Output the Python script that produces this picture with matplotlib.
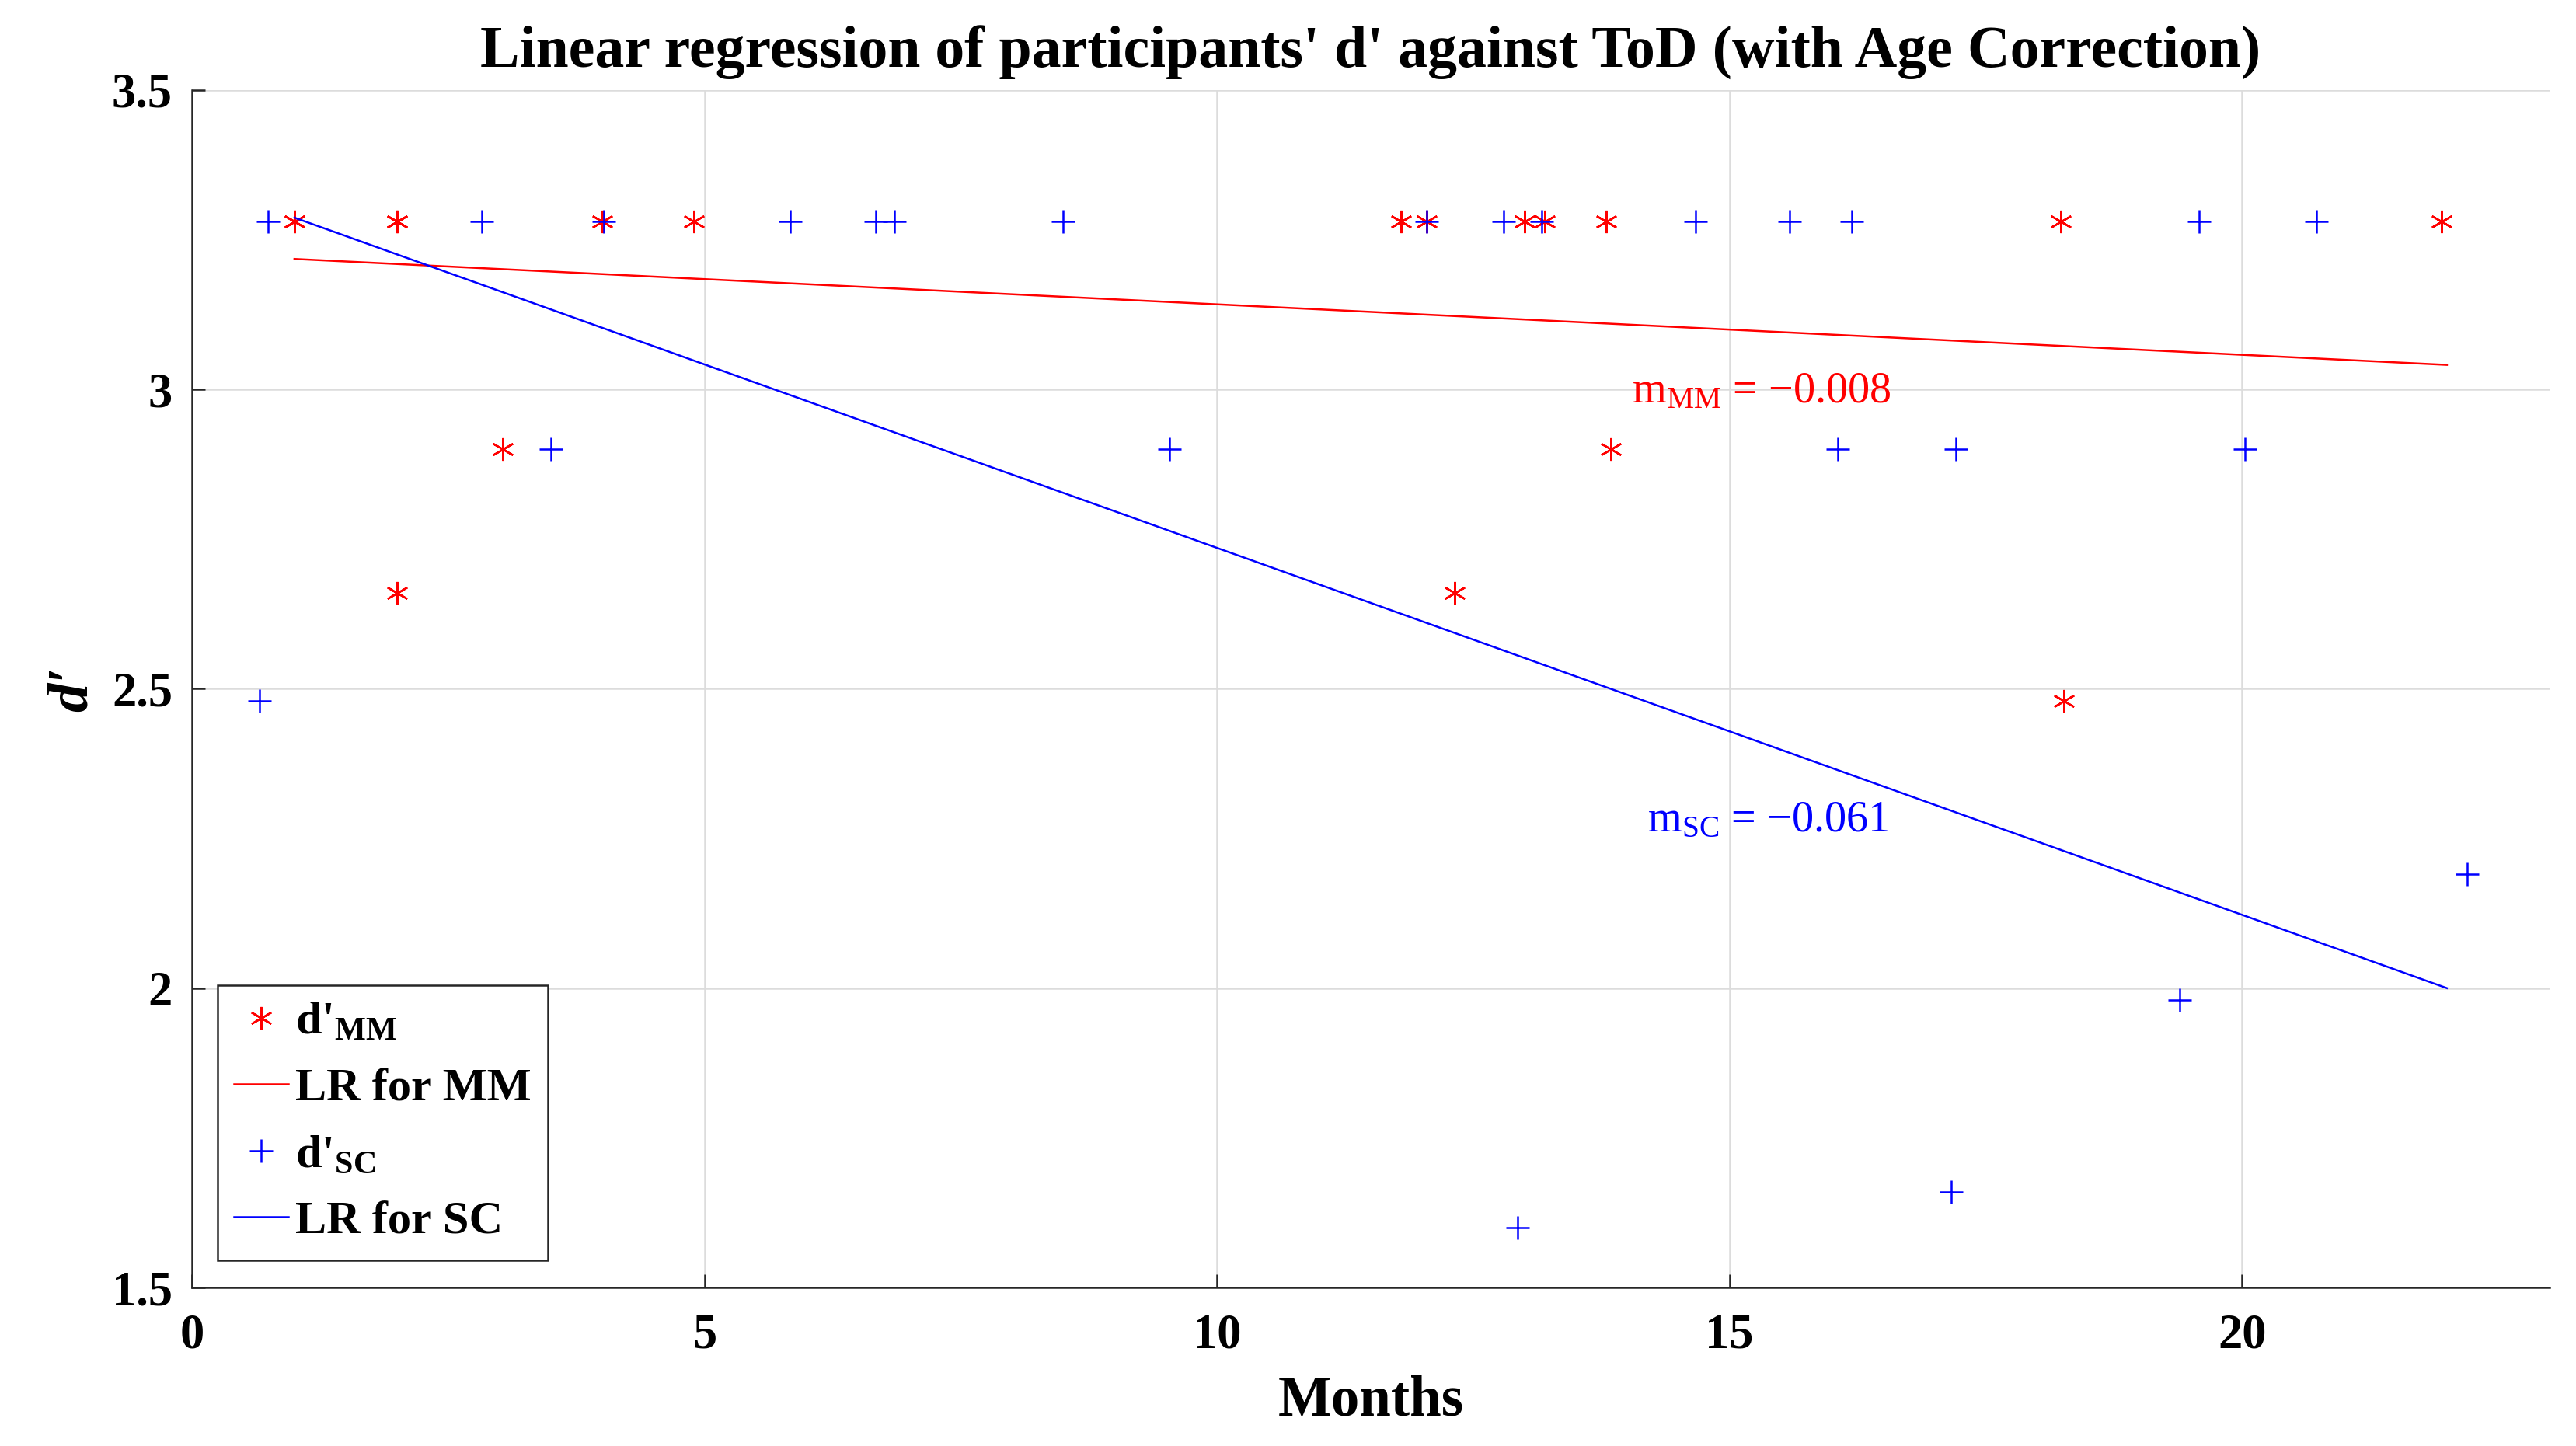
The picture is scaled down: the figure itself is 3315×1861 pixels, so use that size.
import matplotlib
matplotlib.use("Agg")
import matplotlib.pyplot as plt

plt.rcParams['font.family'] = ['Liberation Serif', 'DejaVu Serif']
plt.rcParams['mathtext.fontset'] = 'custom'
plt.rcParams['mathtext.rm'] = 'Liberation Serif'
plt.rcParams['mathtext.it'] = 'Liberation Serif:italic'
plt.rcParams['mathtext.bf'] = 'Liberation Serif:bold'

# ---- data ----
mm_x = [1.0, 1.0, 2.0, 2.0, 4.0, 4.9, 11.8, 12.05, 13.0, 13.2, 13.8, 18.23, 21.95,
        3.03, 13.84, 2.0, 12.32, 18.26]
mm_y = [3.28, 3.28, 3.28, 3.28, 3.28, 3.28, 3.28, 3.28, 3.28, 3.28, 3.28, 3.28, 3.28,
        2.90, 2.90, 2.66, 2.66, 2.48]

sc_x = [0.74, 2.83, 4.02, 5.84, 6.67, 6.85, 8.50, 12.05, 12.80, 13.17, 14.67, 15.59,
        16.19, 19.58, 20.73,
        3.50, 9.54, 16.06, 17.21, 20.03,
        0.66, 22.2, 19.39, 17.16, 12.93]
sc_y = [3.28, 3.28, 3.28, 3.28, 3.28, 3.28, 3.28, 3.28, 3.28, 3.28, 3.28, 3.28,
        3.28, 3.28, 3.28,
        2.90, 2.90, 2.90, 2.90, 2.90,
        2.48, 2.19, 1.98, 1.66, 1.60]

lr_x = [1.0, 22.0]
lr_mm = [3.218, 3.041]
lr_sc = [3.287, 2.000]

slope_mm_label = "m$_{\\mathrm{MM}}$ = \u22120.008"
slope_sc_label = "m$_{\\mathrm{SC}}$ = \u22120.061"
slope_mm_pos = (14.05, 2.978)
slope_sc_pos = (14.2, 2.262)

x_ticks = [0, 5, 10, 15, 20]
y_ticks = [1.5, 2, 2.5, 3, 3.5]
y_tick_labels = ["1.5", "2", "2.5", "3", "3.5"]

# ---- figure ----
fig = plt.figure(figsize=(3315/300, 1861/300), dpi=300)
ax = fig.add_axes([0.0745, 0.1096, 0.9152, 0.8281])

star = (6, 2, 0)
h1, = ax.plot(mm_x, mm_y, linestyle='none', marker=star, markersize=7,
              markeredgewidth=0.6, color='red', label="d'$_{\\mathbf{MM}}$")
h2, = ax.plot(lr_x, lr_mm, color='red', linewidth=0.6, label="LR for MM")
h3, = ax.plot(sc_x, sc_y, linestyle='none', marker='+', markersize=7,
              markeredgewidth=0.6, color='blue', label="d'$_{\\mathbf{SC}}$")
h4, = ax.plot(lr_x, lr_sc, color='blue', linewidth=0.6, label="LR for SC")

ax.text(slope_mm_pos[0], slope_mm_pos[1], slope_mm_label, color='red',
        fontsize=13.5, ha='left', va='baseline')
ax.text(slope_sc_pos[0], slope_sc_pos[1], slope_sc_label, color='blue',
        fontsize=13.5, ha='left', va='baseline')

ax.set_xlim(0, 23)
ax.set_ylim(1.5, 3.5)
ax.set_xticks(x_ticks)
ax.set_yticks(y_ticks)
ax.set_yticklabels(y_tick_labels)

for lab in ax.get_xticklabels() + ax.get_yticklabels():
    lab.set_fontweight('bold')
    lab.set_fontsize(15)

ax.tick_params(axis='both', direction='in', length=4, width=0.6, color='#262626')
ax.tick_params(axis='x', pad=8)
ax.tick_params(axis='y', pad=6)

ax.grid(True, color='#dcdcdc', linewidth=0.6)
ax.set_axisbelow(True)
for s in ['top', 'right']:
    ax.spines[s].set_visible(False)
for s in ['left', 'bottom']:
    ax.spines[s].set_color('#262626')
    ax.spines[s].set_linewidth(0.6)

ax.set_title("Linear regression of participants' d' against ToD (with Age Correction)",
             fontsize=18.2, fontweight='bold', pad=7)
ax.set_xlabel("Months", fontsize=17.5, fontweight='bold', labelpad=5)
ax.set_ylabel("d\u2032", fontsize=18, fontweight='bold', style='italic', labelpad=4)

leg = ax.legend(handles=[h1, h2, h3, h4], loc='lower left',
                bbox_to_anchor=(0.011, 0.023), fancybox=False, framealpha=1,
                edgecolor='#262626', prop={'weight': 'bold', 'size': 14.5},
                handlelength=1.15, handletextpad=0.15, borderpad=0.35,
                labelspacing=0.5, borderaxespad=0)
leg.get_frame().set_linewidth(0.6)

fig.savefig("out.png", dpi=300)
